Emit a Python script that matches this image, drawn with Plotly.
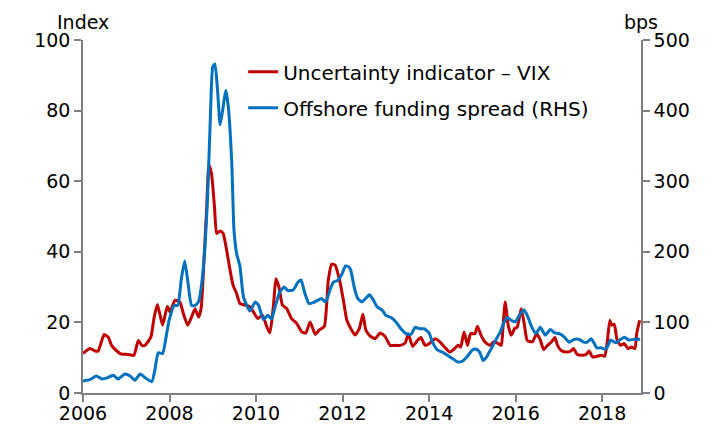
import plotly.graph_objects as go

# Uncertainty indicator - VIX (index, left axis)
vix_t = [2006.00, 2006.16, 2006.28, 2006.35, 2006.49, 2006.59, 2006.66, 2006.78, 2006.89, 2007.01,
         2007.13, 2007.18, 2007.28, 2007.36, 2007.43, 2007.57, 2007.64, 2007.72, 2007.84, 2007.95,
         2008.01, 2008.13, 2008.24, 2008.32, 2008.42, 2008.51, 2008.59, 2008.67, 2008.73, 2008.80,
         2008.86, 2008.91, 2008.97, 2009.04, 2009.09, 2009.17, 2009.24, 2009.32, 2009.40, 2009.47,
         2009.55, 2009.63, 2009.75, 2009.86, 2009.94, 2010.04, 2010.15, 2010.25, 2010.32, 2010.40,
         2010.46, 2010.53, 2010.61, 2010.71, 2010.82, 2010.94, 2011.06, 2011.15, 2011.25, 2011.37,
         2011.46, 2011.58, 2011.67, 2011.75, 2011.83, 2011.94, 2012.02, 2012.10, 2012.21, 2012.29,
         2012.39, 2012.47, 2012.54, 2012.64, 2012.75, 2012.87, 2012.98, 2013.10, 2013.21, 2013.33,
         2013.45, 2013.52, 2013.62, 2013.72, 2013.81, 2013.91, 2014.01, 2014.05, 2014.15, 2014.25,
         2014.36, 2014.48, 2014.59, 2014.67, 2014.73, 2014.81, 2014.89, 2014.96, 2015.06, 2015.12,
         2015.20, 2015.29, 2015.40, 2015.50, 2015.60, 2015.67, 2015.71, 2015.76, 2015.83, 2015.90,
         2015.98, 2016.04, 2016.13, 2016.20, 2016.27, 2016.39, 2016.49, 2016.57, 2016.65, 2016.74,
         2016.83, 2016.91, 2016.97, 2017.05, 2017.16, 2017.28, 2017.34, 2017.42, 2017.54, 2017.64,
         2017.70, 2017.78, 2017.88, 2017.98, 2018.06, 2018.12, 2018.18, 2018.22, 2018.28, 2018.35,
         2018.43, 2018.51, 2018.60, 2018.68, 2018.76, 2018.80, 2018.87]
vix = [11.2, 12.6, 11.9, 11.9, 16.6, 15.7, 13.5, 11.9, 11.0, 11.0,
       10.7, 10.7, 14.9, 13.5, 13.5, 15.9, 21.1, 25.1, 19.2, 24.6,
       23.0, 26.3, 25.8, 22.5, 19.2, 21.5, 23.9, 21.5, 23.9, 38.6,
       52.7, 64.6, 62.2, 52.7, 45.2, 45.9, 45.2, 40.5, 34.8, 30.5,
       28.2, 25.3, 24.9, 24.4, 23.0, 21.1, 22.0, 18.7, 17.0, 24.4,
       32.4, 30.0, 24.9, 23.9, 21.1, 19.7, 17.3, 17.0, 20.1, 16.6,
       17.8, 18.9, 31.9, 36.5, 36.2, 31.5, 26.3, 20.6, 17.8, 16.4,
       18.3, 22.3, 17.8, 16.1, 15.4, 17.0, 16.1, 13.5, 13.5, 13.5,
       14.2, 16.8, 13.2, 14.7, 15.7, 13.5, 14.0, 14.5, 15.4, 14.5,
       13.0, 11.6, 12.6, 13.5, 13.0, 17.3, 13.5, 16.8, 16.8, 18.9,
       16.4, 14.5, 13.5, 14.5, 14.0, 13.5, 18.7, 25.8, 19.2, 16.4,
       18.3, 18.7, 23.9, 19.7, 14.9, 14.5, 16.8, 15.1, 12.3, 13.5,
       14.5, 15.7, 13.5, 12.1, 11.6, 11.9, 12.6, 11.0, 10.7, 11.0,
       11.9, 10.2, 10.4, 10.7, 10.4, 14.5, 20.6, 19.2, 19.5, 14.9,
       13.5, 14.0, 12.6, 13.0, 12.6, 16.8, 20.6]

# Offshore funding spread (bps, right axis)
spread_t = [2006.00, 2006.16, 2006.31, 2006.43, 2006.54, 2006.70, 2006.81, 2006.97, 2007.09, 2007.20,
            2007.32, 2007.43, 2007.59, 2007.66, 2007.74, 2007.84, 2007.92, 2007.99, 2008.11, 2008.19,
            2008.27, 2008.35, 2008.43, 2008.51, 2008.59, 2008.67, 2008.74, 2008.82, 2008.88, 2008.94,
            2009.00, 2009.05, 2009.11, 2009.17, 2009.23, 2009.30, 2009.36, 2009.44, 2009.49, 2009.55,
            2009.63, 2009.71, 2009.86, 2009.98, 2010.06, 2010.17, 2010.27, 2010.36, 2010.45, 2010.55,
            2010.65, 2010.74, 2010.86, 2010.96, 2011.04, 2011.13, 2011.22, 2011.32, 2011.42, 2011.51,
            2011.61, 2011.71, 2011.79, 2011.90, 2011.99, 2012.07, 2012.14, 2012.19, 2012.27, 2012.35,
            2012.45, 2012.62, 2012.69, 2012.80, 2012.92, 2013.00, 2013.12, 2013.23, 2013.35, 2013.47,
            2013.58, 2013.68, 2013.78, 2013.89, 2014.00, 2014.08, 2014.19, 2014.31, 2014.43, 2014.54,
            2014.66, 2014.77, 2014.89, 2015.00, 2015.09, 2015.17, 2015.25, 2015.33, 2015.44, 2015.56,
            2015.65, 2015.72, 2015.80, 2015.90, 2016.00, 2016.07, 2016.19, 2016.27, 2016.37, 2016.47,
            2016.57, 2016.69, 2016.80, 2016.91, 2017.01, 2017.13, 2017.24, 2017.36, 2017.47, 2017.57,
            2017.66, 2017.75, 2017.88, 2017.98, 2018.09, 2018.20, 2018.32, 2018.43, 2018.52, 2018.62,
            2018.74, 2018.88]
spread = [17, 19, 24, 20, 21, 25, 20, 27, 24, 18,
          27, 22, 16, 32, 57, 56, 79, 103, 124, 124,
          160, 187, 155, 124, 124, 129, 153, 207, 278, 382,
          462, 466, 429, 380, 401, 429, 405, 325, 231, 198,
          179, 136, 116, 129, 124, 104, 110, 105, 124, 143,
          150, 145, 146, 156, 160, 141, 127, 128, 131, 134,
          129, 146, 157, 160, 169, 180, 179, 174, 150, 134,
          129, 139, 134, 122, 117, 110, 107, 101, 91, 84,
          83, 93, 91, 91, 85, 72, 61, 58, 53, 49,
          44, 45, 52, 61, 62, 58, 46, 51, 63, 77,
          87, 98, 107, 103, 101, 108, 118, 110, 94, 84,
          93, 82, 90, 85, 84, 79, 72, 76, 76, 72,
          72, 77, 64, 64, 62, 75, 71, 76, 79, 75,
          76, 76]

year_ticks = [2006, 2008, 2010, 2012, 2014, 2016, 2018]

FONT = "DejaVu Sans, Arial, sans-serif"
FSIZE = 19
RED = "#C00000"
BLUE = "#0070C0"
AXIS = "#7f7f7f"

fig = go.Figure()

fig.add_trace(go.Scatter(
    x=vix_t, y=vix, mode="lines", name="Uncertainty indicator \u2013 VIX",
    line=dict(color=RED, width=3, shape="spline", smoothing=0.5),
    legendgroup="a",
))
fig.add_trace(go.Scatter(
    x=spread_t, y=spread, mode="lines", name="Offshore funding spread (RHS)",
    line=dict(color=BLUE, width=3, shape="spline", smoothing=0.5),
    yaxis="y2", legendgroup="b",
))

axis_common = dict(
    showgrid=False, zeroline=False, showline=True, linecolor=AXIS, linewidth=1.5,
    ticks="outside", tickcolor=AXIS, ticklen=7, tickwidth=1.5, automargin=False,
    tickfont=dict(family=FONT, size=FSIZE, color="black"),
)

# page body has an 8px margin, so the figure is a bit smaller than the window
fig.update_layout(
    width=709, height=418,
    margin=dict(l=75, r=76, t=32, b=33),
    paper_bgcolor="white", plot_bgcolor="white",
    font=dict(family=FONT, size=FSIZE, color="black"),
    xaxis=dict(range=[2006, 2018.9], tickvals=year_ticks, tickformat="d",
               ticklabelstandoff=-5, **axis_common),
    yaxis=dict(range=[0, 100], dtick=20, **axis_common),
    yaxis2=dict(range=[0, 500], dtick=100, overlaying="y", side="right", **axis_common),
    showlegend=True,
    legend=dict(x=0.287, y=0.965, xanchor="left", yanchor="top", bgcolor="rgba(0,0,0,0)",
                font=dict(family=FONT, size=20, color="black"), tracegroupgap=7),
    annotations=[
        dict(text="Index", xref="paper", yref="paper", x=0, y=1, xanchor="center", yanchor="bottom",
             yshift=5, showarrow=False, font=dict(family=FONT, size=FSIZE)),
        dict(text="bps", xref="paper", yref="paper", x=1, y=1, xanchor="center", yanchor="bottom",
             yshift=5, showarrow=False, font=dict(family=FONT, size=FSIZE)),
    ],
)

fig.write_html("out.html")
